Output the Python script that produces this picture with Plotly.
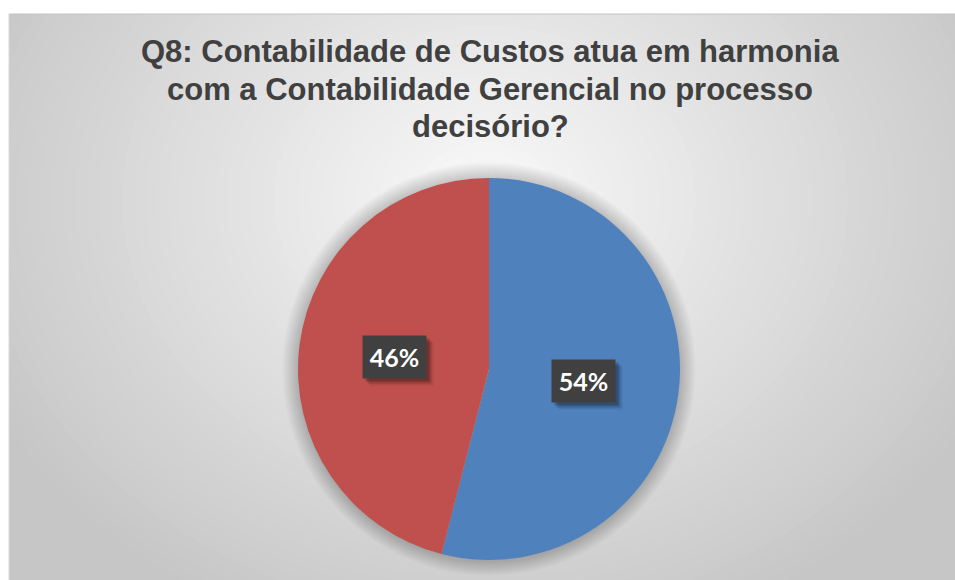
import math
import plotly.graph_objects as go

# ---- data ----
labels = ["Sim", "Não"]
values = [54, 46]
colors = ["#4F81BD", "#C0504D"]
title_lines = [
    "Q8: Contabilidade de Custos atua em harmonia",
    "com a Contabilidade Gerencial no processo",
    "decisório?",
]

W, H = 955, 580
# pie geometry in pixels
CX, CY, R = 489, 369, 191


def px(x):
    return x / W


def py(y):
    return 1 - y / H


fig = go.Figure()
fig.add_trace(go.Pie(
    labels=labels, values=values, sort=False, direction="clockwise", rotation=0,
    marker=dict(colors=colors, line=dict(width=0)),
    textinfo="none", hoverinfo="label+percent", showlegend=False,
    domain=dict(x=[px(CX - R), px(CX + R)], y=[py(CY + R), py(CY - R)]),
))

shapes = []
# radial gradient background (concentric ellipses)
GX, GY, AX, AY = 485, 200, 520, 430
N = 60
for i in range(N):
    d = 1.35 * (1 - i / N)
    c = int(round(min(250, max(198, 250 - 48 * d))))
    col = f"rgb({c},{c},{c})"
    shapes.append(dict(type="circle", xref="paper", yref="paper", layer="below",
                       x0=px(GX - d * AX), x1=px(GX + d * AX),
                       y0=py(GY + d * AY), y1=py(GY - d * AY),
                       fillcolor=col, line=dict(width=0)))
# soft shadow around the pie
for k in range(16, 0, -1):
    rr = R + k
    a = 0.012
    shapes.append(dict(type="circle", xref="paper", yref="paper", layer="below",
                       x0=px(CX - rr), x1=px(CX + rr), y0=py(CY + rr), y1=py(CY - rr),
                       fillcolor=f"rgba(0,0,0,{a})", line=dict(width=0)))
# white margin outside chart area
shapes.append(dict(type="rect", xref="paper", yref="paper", layer="below",
                   x0=-0.01, x1=1.01, y0=py(14), y1=1.01, fillcolor="white", line=dict(width=0)))
shapes.append(dict(type="rect", xref="paper", yref="paper", layer="below",
                   x0=-0.01, x1=px(9), y0=-0.01, y1=1.01, fillcolor="white", line=dict(width=0)))
shapes.append(dict(type="line", xref="paper", yref="paper", layer="below",
                   x0=px(9), x1=1.01, y0=py(14), y1=py(14), line=dict(color="#c4c4c4", width=1)))
shapes.append(dict(type="line", xref="paper", yref="paper", layer="below",
                   x0=px(9), x1=px(9), y0=-0.01, y1=py(14), line=dict(color="#d8d8d8", width=1)))

annotations = []
for i, t in enumerate(title_lines):
    annotations.append(dict(
        text=f"<b>{t}</b>", xref="paper", yref="paper",
        x=px(490), y=py(32 + 37.5 * i), xanchor="center", yanchor="top", showarrow=False,
        font=dict(family="Arial", size=31, color="#404040"),
    ))

# data labels at mid-angle, half radius
total = sum(values)
cum = 0
for v in values:
    mid = (cum + v / 2) / total * 2 * math.pi
    cum += v
    lx = CX + 0.5 * R * math.sin(mid)
    ly = CY - 0.5 * R * math.cos(mid)
    pct = f"<b>{round(100 * v / total)}%</b>"
    for s, a in [(7, 0.08), (5, 0.15), (3, 0.22)]:
        annotations.append(dict(text=" ", xref="paper", yref="paper", x=px(lx), y=py(ly),
                                xshift=s, yshift=-s, showarrow=False, width=63, height=42,
                                borderpad=0, bgcolor=f"rgba(0,0,0,{a})"))
    annotations.append(dict(text=pct, xref="paper", yref="paper", x=px(lx), y=py(ly),
                            showarrow=False, width=63, height=42, borderpad=0,
                            bgcolor="#404040",
                            font=dict(family="Lato", size=25, color="white")))

fig.update_layout(
    width=W, height=H, margin=dict(l=0, r=0, t=0, b=0),
    paper_bgcolor="white", plot_bgcolor="white",
    shapes=shapes, annotations=annotations,
)
fig.write_html("out.html")
